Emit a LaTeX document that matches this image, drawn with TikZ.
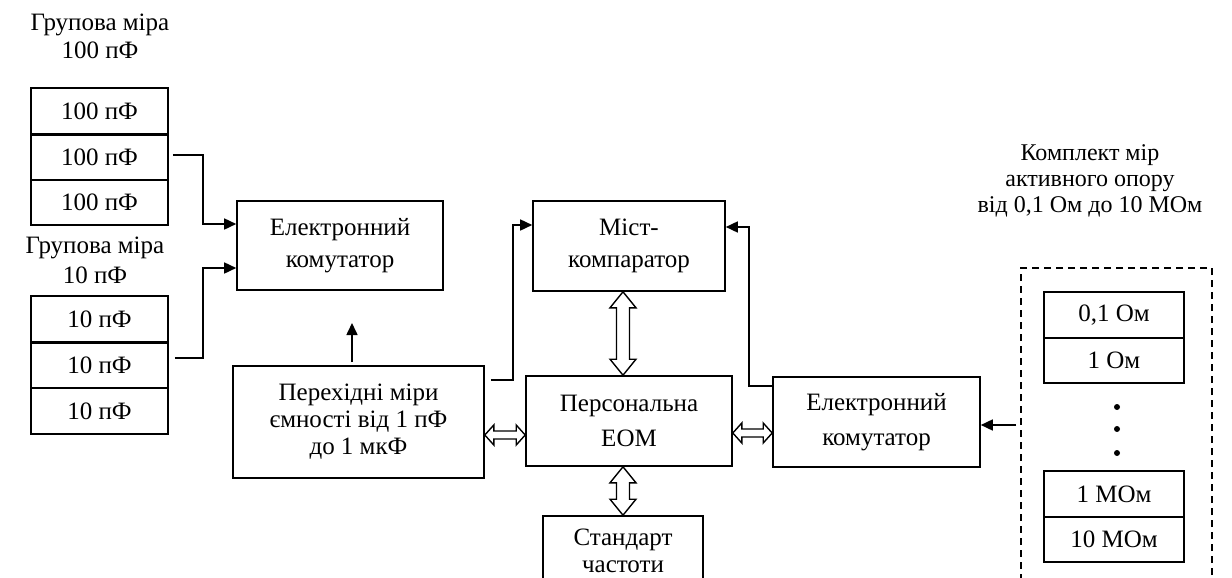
\documentclass[tikz,border=0pt]{standalone}
\usepackage{fontspec}
\setmainfont{Liberation Serif}
\usetikzlibrary{calc,arrows.meta}
\newcommand{\hollowarrow}[5]{%
  \coordinate (ha) at ($(#1)!#5!(#2)$);
  \coordinate (hb) at ($(#2)!#5!(#1)$);
  \draw[hollow] (#1)
   -- ($(ha)!#4!90:(#2)$) -- ($(ha)!#3!90:(#2)$)
   -- ($(hb)!#3!-90:(#1)$) -- ($(hb)!#4!-90:(#1)$)
   -- (#2)
   -- ($(hb)!#4!90:(#1)$) -- ($(hb)!#3!90:(#1)$)
   -- ($(ha)!#3!-90:(#2)$) -- ($(ha)!#4!-90:(#2)$)
   -- cycle;}
\begin{document}
\begin{tikzpicture}[x=1pt,y=-1pt,
  every node/.style={font=\fontsize{25}{28}\selectfont},
  box/.style={draw,line width=1.6pt,inner sep=0pt,align=center},
  cell/.style={box,minimum width=137pt},
  rcell/.style={box,minimum width=140pt},
  title/.style={align=center,inner sep=0pt},
  arr/.style={line width=1.6pt,-{Triangle[length=12pt,width=11pt]}},
  hollow/.style={line width=1.4pt,fill=white,line join=miter},
  dashframe/.style={draw,line width=1.6pt,dash pattern=on 7pt off 5pt,minimum width=191pt,minimum height=332pt,inner sep=0pt}
  ]
\clip (0,0) rectangle (1232,578);
\fill[white] (0,0) rectangle (1232,578);

% left group 100 pF
\node[title] (t100) at (100,36) {Групова міра\\100 пФ};
\node[cell,minimum height=46pt] (c100a) at (99.5,111) {100 пФ};
\node[cell,minimum height=46pt] (c100b) at (99.5,157) {100 пФ};
\node[cell,minimum height=45pt] (c100c) at (99.5,202.5) {100 пФ};
\draw[line width=3pt] (c100a.south west) -- (c100a.south east);

% left group 10 pF
\node[title,font=\fontsize{25}{30}\selectfont] (t10) at (95,260) {Групова міра\\10 пФ};
\node[cell,minimum height=46pt] (c10a) at (99.5,319) {10 пФ};
\node[cell,minimum height=46pt] (c10b) at (99.5,365) {10 пФ};
\node[cell,minimum height=46pt] (c10c) at (99.5,411) {10 пФ};
\draw[line width=3pt] (c10a.south west) -- (c10a.south east);

% main boxes
\node[box,minimum width=206pt,minimum height=89pt,font=\fontsize{25}{32}\selectfont] (kom1) at (340,245.5) {Електронний\\комутатор};
\node[box,minimum width=251pt,minimum height=112pt,font=\fontsize{25}{27}\selectfont] (perekh) at (358.5,422) {Перехідні міри\\ємності від 1 пФ\\до 1 мкФ};
\node[box,minimum width=192pt,minimum height=90pt,font=\fontsize{25}{32}\selectfont] (mist) at (629,246) {Міст-\\компаратор};
\node[box,minimum width=206pt,minimum height=90pt,font=\fontsize{25}{35}\selectfont] (eom) at (629,421) {Персональна\\ЕОМ};
\node[box,minimum width=207pt,minimum height=90pt,font=\fontsize{25}{35}\selectfont] (kom2) at (876.5,422) {Електронний\\комутатор};
\node[box,minimum width=160pt,minimum height=70pt,font=\fontsize{25}{27}\selectfont] (stand) at (623,551) {Стандарт\\частоти};

% right set
\node[title,font=\fontsize{24}{26}\selectfont] (tr) at (1090,181) {Комплект мір\\активного опору\\від 0,1 Ом до 10 МОм};
\node[dashframe] (frame) at (1116.5,434) {};
\node[rcell,minimum height=46pt] (r1) at (1114,315) {0,1 Ом};
\node[rcell,minimum height=45pt] (r2) at (1114,360.5) {1 Ом};
\node[rcell,minimum height=46pt] (r3) at (1114,494) {1 МОм};
\node[rcell,minimum height=45pt] (r4) at (1114,539.5) {10 МОм};
\fill (1117,407) circle (3pt) (1117,429) circle (3pt) (1117,453) circle (3pt);

% connectors
\draw[arr] ([xshift=4pt,yshift=2pt]c100b.east) -- ++(30,0) |- ([yshift=21.5pt]kom1.west);
\draw[arr] ([xshift=6pt,yshift=7pt]c10b.east) -- ++(28,0) |- ([yshift=-22.5pt]kom1.west);
\coordinate (upend) at (352,323);
\draw[arr] ([xshift=-6.5pt,yshift=3pt]perekh.north) -- (upend);
\draw[arr] ([xshift=6pt,yshift=-15pt]perekh.north east) -- ++(22,0) |- ([yshift=21pt]mist.west);
\draw[arr] ([yshift=-10pt]kom2.north west) -- ++(-23,0) |- ([yshift=19pt]mist.east);
\draw[arr] ([xshift=-4pt,yshift=9pt]frame.west) -- ([yshift=-3pt]kom2.east);

% hollow double arrows
\coordinate (d1a) at ([xshift=-6pt]mist.south);
\coordinate (d1b) at ([xshift=-6pt]eom.north);
\hollowarrow{d1a}{d1b}{6.5pt}{13pt}{16pt}
\coordinate (d2a) at ([xshift=-6pt]eom.south);
\coordinate (d2b) at (stand.north);
\hollowarrow{d2a}{d2b}{6.5pt}{13pt}{16pt}
\coordinate (d3a) at ([yshift=-13pt]perekh.east);
\coordinate (d3b) at ([yshift=-14pt]eom.west);
\hollowarrow{d3a}{d3b}{4pt}{10pt}{9pt}
\coordinate (d4a) at ([yshift=-12pt]eom.east);
\coordinate (d4b) at ([yshift=-11pt]kom2.west);
\hollowarrow{d4a}{d4b}{4pt}{10pt}{9pt}
\end{tikzpicture}
\end{document}
